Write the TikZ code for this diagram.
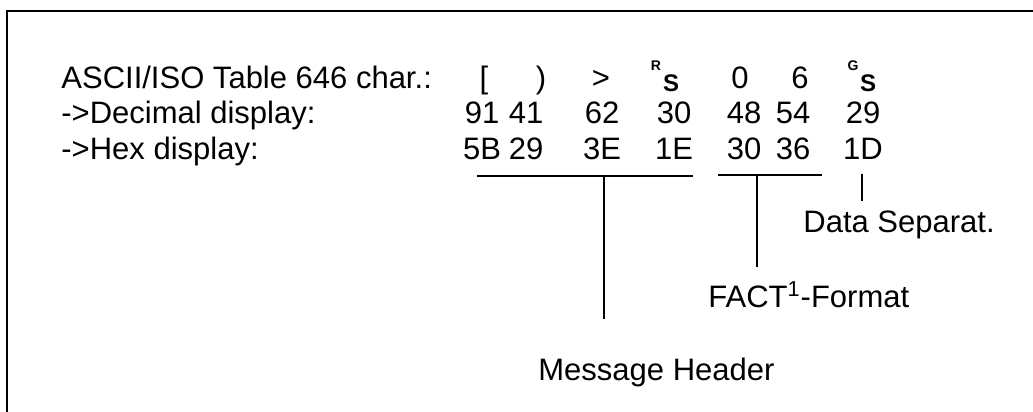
\documentclass[tikz,border=0pt]{standalone}
\usepackage{fontspec}
\setmainfont{Liberation Sans}
\usetikzlibrary{positioning}

\begin{document}
\begin{tikzpicture}[x=0.5pt, y=-0.5pt, font=\fontsize{15.5}{18}\selectfont,
          cell/.style={anchor=base, inner sep=0pt},
          lbl/.style={anchor=base west, inner sep=0pt},
          sup/.style={anchor=base, inner sep=0pt, font=\bfseries\fontsize{7}{8}\selectfont},
          sub/.style={anchor=base, inner sep=0pt, font=\bfseries\fontsize{12}{13}\selectfont},
          brk/.style={line width=0.8pt},
          lead/.style={line width=0.6pt}]
        \useasboundingbox (0,0) rectangle (1033,412);
        % frame, open to the right and at the bottom
        \draw[line width=1pt] (7,412) -- (7,11) -- (1033,11);
        % row captions
        \node[lbl] (chr) at (61,88) {ASCII/ISO Table 646 char.:};
        \node[lbl] (dec) at (61,123) {->Decimal display:};
        \node[lbl] (hex) at (61,159) {->Hex display:};
        % characters
        \node[cell] (c1) at (484,88) {[};
        \node[cell] (c2) at (541,88) {)};
        \node[cell] (c3) at (601,88) {>};
        \node[sup] (rsr) at (656,70) {R};
        \node[sub] (rss) at (671,91) {S};
        \node[cell] (c5) at (740,88) {0};
        \node[cell] (c6) at (800,88) {6};
        \node[sup] (gsg) at (853,70) {G};
        \node[sub] (gss) at (868,91) {S};
        % decimal and hex codes
        \foreach \x/\d/\h [count=\i] in {482/91/5B, 526/41/29, 602/62/3E, 674/30/1E,
                                         744/48/30, 793/54/36, 863/29/1D} {
          \node[cell] (dec\i) at (\x,123) {\d};
          \node[cell] (hex\i) at (\x,159) {\h};
        }
        % brackets and leaders
        \coordinate (mhl) at (477,176);
        \coordinate (mhr) at (693,176);
        \coordinate (mht) at (604,176);
        \coordinate (mhb) at (604,319);
        \coordinate (fal) at (718,175);
        \coordinate (far) at (822,175);
        \coordinate (fat) at (757,175);
        \coordinate (fab) at (757,267);
        \coordinate (dst) at (862,174);
        \coordinate (dsb) at (862,201);
        \draw[brk] (mhl) -- (mhr);
        \draw[brk] (fal) -- (far);
        \draw[lead] (mht) -- (mhb);
        \draw[lead] (fat) -- (fab);
        \draw[lead] (dst) -- (dsb);
        % field names
        \node[lbl] (sep) at (803,232) {Data Separat.};
        \node[lbl] (fact) at (708,307) {FACT\textsuperscript{1}-Format};
        \node[lbl] (mhdr) at (538,380) {Message Header};
      \end{tikzpicture}
\end{document}
